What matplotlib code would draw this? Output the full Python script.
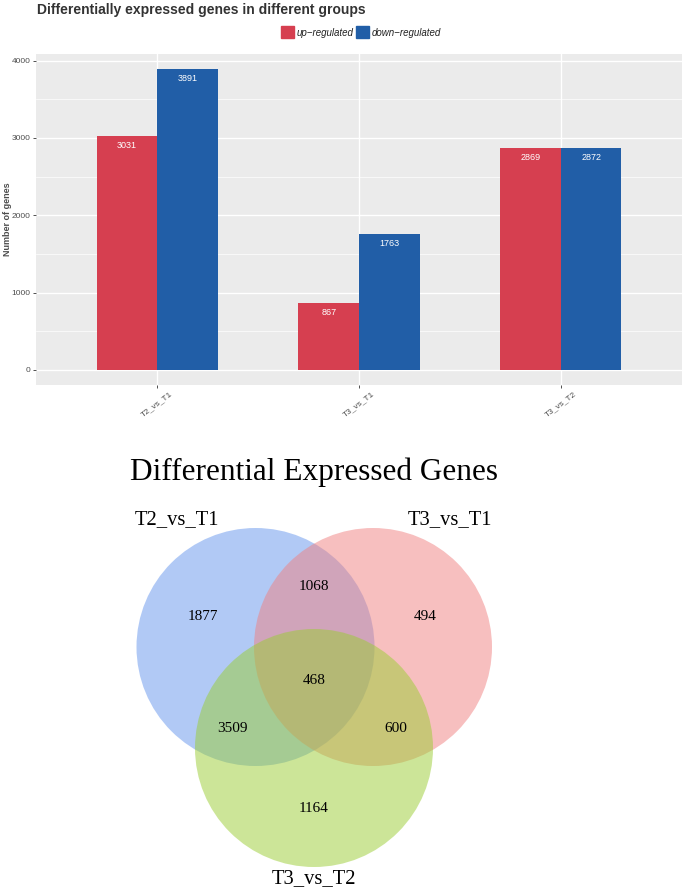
import matplotlib
matplotlib.use("Agg")
import matplotlib.pyplot as plt
from matplotlib.patches import Circle, Rectangle
import numpy as np

# ---- data ----
groups = ["T2_vs_T1", "T3_vs_T1", "T3_vs_T2"]
up_regulated = [3031, 867, 2869]
down_regulated = [3891, 1763, 2872]
series_labels = ["up\u2212regulated", "down\u2212regulated"]
yticks = [0, 1000, 2000, 3000, 4000]

venn_sets = ["T2_vs_T1", "T3_vs_T1", "T3_vs_T2"]
# regions: only A, only B, only C, AB, AC, BC, ABC
venn_only_A = 1877
venn_only_B = 494
venn_only_C = 1164
venn_AB = 1068
venn_AC = 3509
venn_BC = 600
venn_ABC = 468

W, H = 685, 890
plt.rcParams["font.family"] = ["Liberation Sans", "DejaVu Sans"]
fig = plt.figure(figsize=(W / 100, H / 100), dpi=100)

red = "#D63F50"
blue = "#215EA7"
grey_txt = "#4D4D4D"

def fx(px):
    return px / W

def fy(py):
    return 1 - py / H

# ---- bar chart ----
ax = fig.add_axes([fx(36), fy(385), fx(682) - fx(36), fy(54) - fy(385)])
ax.set_facecolor("#EBEBEB")
x = np.arange(1, len(groups) + 1)
bw = 0.3
ax.bar(x - bw / 2, up_regulated, width=bw, color=red, zorder=3)
ax.bar(x + bw / 2, down_regulated, width=bw, color=blue, zorder=3)
for xi, v in zip(x - bw / 2, up_regulated):
    ax.text(xi, v - 125, str(v), ha="center", va="center", color="white", fontsize=6.5, zorder=4)
for xi, v in zip(x + bw / 2, down_regulated):
    ax.text(xi, v - 125, str(v), ha="center", va="center", color="white", fontsize=6.5, zorder=4)

ymax = max(max(up_regulated), max(down_regulated))
ax.set_xlim(0.4, 3.6)
ax.set_ylim(-0.05 * ymax, 1.05 * ymax)
ax.set_yticks(yticks)
ax.set_yticks([500, 1500, 2500, 3500], minor=True)
ax.set_xticks(x)
ax.set_xticklabels(groups, rotation=37, ha="center", va="top", fontsize=6, color=grey_txt)
ax.tick_params(axis="y", labelsize=6, labelcolor=grey_txt, color="#333333", length=2.5, width=0.6, pad=1.5)
ax.tick_params(axis="x", color="#333333", length=2.5, width=0.6, pad=1.5)
ax.tick_params(axis="y", which="minor", length=0)
ax.grid(True, which="major", color="white", linewidth=1.0, zorder=0)
ax.grid(True, which="minor", axis="y", color="white", linewidth=0.5, zorder=0)
ax.set_axisbelow(True)
for s in ax.spines.values():
    s.set_visible(False)
ax.set_ylabel("Number of genes", fontsize=6.5, fontweight="bold", color=grey_txt)
ax.yaxis.set_label_coords(-0.037, 0.5)

fig.text(fx(37), fy(10), "Differentially expressed genes in different groups",
         fontsize=10, fontweight="bold", color="#333333", ha="left", va="center")

# overlay axes in pixel coordinates
lax = fig.add_axes([0, 0, 1, 1], facecolor="none")
lax.set_xlim(0, W)
lax.set_ylim(H, 0)
lax.axis("off")

# legend (manual, ggplot-like)
lax.add_patch(Rectangle((281, 26), 13, 12, color=red))
lax.text(297, 32.5, series_labels[0], fontsize=7, style="italic", color="#222222", va="center", ha="left")
lax.add_patch(Rectangle((356, 26), 13, 12, color=blue))
lax.text(372, 32.5, series_labels[1], fontsize=7, style="italic", color="#222222", va="center", ha="left")

# ---- Venn diagram ----
serif = ["Liberation Serif", "DejaVu Serif"]
r = 119
centers = [(255.5, 647), (373, 647), (314, 748)]
colors = ["#6495ED", "#F08080", "#9ACD32"]
for (cx, cy), c in zip(centers, colors):
    lax.add_patch(Circle((cx, cy), r, facecolor=c, edgecolor="none", alpha=0.5))

lax.text(314, 472, "Differential Expressed Genes", family=serif, fontsize=22.5,
         ha="center", va="center", color="black")
lax.text(177, 520, venn_sets[0], family=serif, fontsize=14.8, ha="center", va="center")
lax.text(450, 520, venn_sets[1], family=serif, fontsize=14.8, ha="center", va="center")
lax.text(314, 879, venn_sets[2], family=serif, fontsize=14.8, ha="center", va="center")

region_vals = [venn_only_A, venn_only_B, venn_only_C, venn_AB, venn_AC, venn_BC, venn_ABC]
region_pos = [(203, 617), (425, 617), (314, 809), (314, 587), (232, 728), (396, 728), (314, 681)]
for v, (px, py) in zip(region_vals, region_pos):
    lax.text(px, py, str(v), family=serif, fontsize=11, ha="center", va="center")

fig.savefig("out.png", dpi=100)
